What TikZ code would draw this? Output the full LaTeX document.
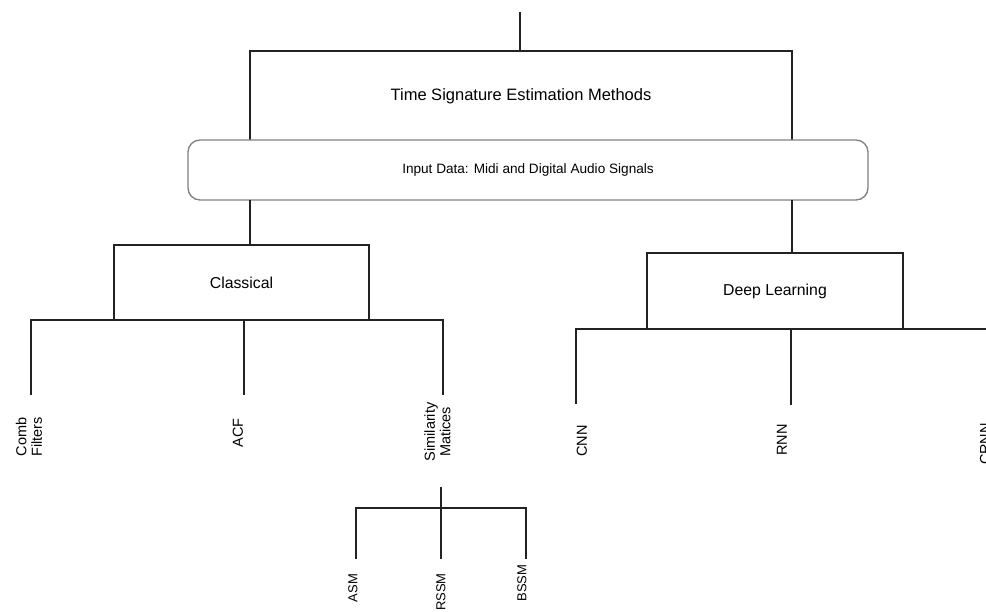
\documentclass[tikz,border=0pt]{standalone}
\usepackage{fontspec}
\setmainfont{Liberation Sans}
\definecolor{linec}{HTML}{222222}
\definecolor{rimc}{HTML}{808080}
\begin{document}
\begin{tikzpicture}[x=1pt,y=-1pt,
  line/.style={draw=linec, line width=1.4pt},
  box/.style={draw=linec, line width=1.4pt, rectangle, inner sep=0pt, outer sep=0pt, font=\fontsize{15.8}{18}\selectfont},
  inbox/.style={draw=rimc, fill=white, line width=1.3pt, rectangle, rounded corners=12pt, inner sep=0pt, outer sep=0pt, font=\fontsize{13.6}{16}\selectfont},
  leaf/.style={rotate=90, inner sep=0pt, align=center, font=\fontsize{14.5}{15.5}\selectfont},
  smallleaf/.style={rotate=90, inner sep=0pt, font=\fontsize{13}{15}\selectfont}]
\useasboundingbox (0,0) rectangle (986,612);
\clip (0,0) rectangle (986,612);
\fill[white] (0,0) rectangle (986,612);

% main boxes
\node[box, minimum width=542pt, minimum height=90pt, font=\fontsize{16.5}{19}\selectfont] (title) at (521,96) {Time Signature Estimation Methods};
\node[inbox, minimum width=680pt, minimum height=60pt] (input) at (528,170) {Input Data: Midi and Digital Audio Signals};
\node[box, minimum width=255pt, minimum height=75pt] (classical) at (241.5,282.5) {Classical};
\node[box, minimum width=256pt, minimum height=76pt] (deep) at (775,291) {Deep Learning};

% top stem
\coordinate (top) at (520,12);
\draw[line] (top) -- (top |- title.north);

% stems below the input box
\draw[line] (input.south -| title.west) -- (classical.north -| title.west);
\draw[line] (input.south -| title.east) -- (deep.north -| title.east);

% classical leaves
\coordinate (cbE) at (31,395);
\coordinate (acfE) at (244,395);
\coordinate (simE) at (443,395);
\draw[line] (cbE) -- (cbE |- classical.south) -- (simE |- classical.south) -- (simE);
\draw[line] (acfE |- classical.south) -- (acfE);

\node[leaf] (comb) at (29,437) {Comb\\Filters};
\node[leaf] (acf) at (238,433) {ACF};
\node[leaf] (sim) at (437.5,432) {Similarity\\Matices};

% similarity sub-tree
\coordinate (ssTop) at (441,487);
\coordinate (ssBus) at (441,508);
\coordinate (asmE) at (356,559);
\coordinate (rssmE) at (441,559);
\coordinate (bssmE) at (526,559);
\draw[line] (ssTop) -- (rssmE);
\draw[line] (asmE) -- (asmE |- ssBus) -- (bssmE |- ssBus) -- (bssmE);

\node[smallleaf] (asm) at (353,588) {ASM};
\node[smallleaf] (rssm) at (441,592) {RSSM};
\node[smallleaf] (bssm) at (522,583) {BSSM};

% deep learning leaves
\coordinate (cnnE) at (576,404);
\coordinate (rnnE) at (791,405);
\coordinate (crnnE) at (1000,404);
\draw[line] (cnnE) -- (cnnE |- deep.south) -- (crnnE |- deep.south) -- (crnnE);
\draw[line] (rnnE |- deep.south) -- (rnnE);

\node[leaf] (cnn) at (582,441) {CNN};
\node[leaf] (rnn) at (782,440) {RNN};
\node[leaf] (crnn) at (985,444) {CRNN};
\end{tikzpicture}
\end{document}
